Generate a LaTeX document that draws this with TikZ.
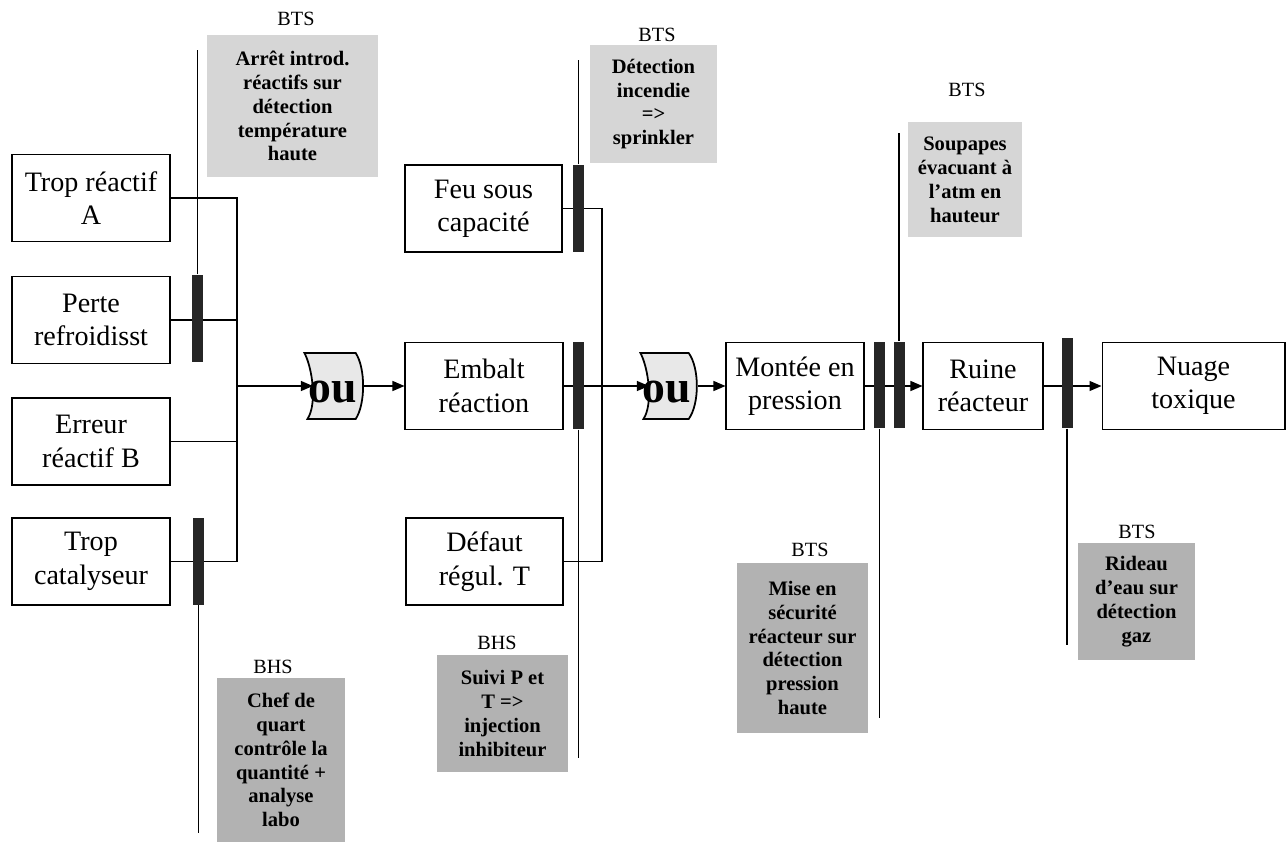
\documentclass[tikz,border=0pt]{standalone}
\usepackage{fontspec}
\setmainfont{Liberation Serif}
\usetikzlibrary{arrows.meta}
\definecolor{grisclair}{gray}{0.84}
\definecolor{grisfonce}{gray}{0.70}
\begin{document}
\begin{tikzpicture}[x=0.02cm,y=-0.02cm,line width=0.7pt,
  evt/.style={draw=black, line width=0.6pt, minimum height=1.74cm, inner sep=1pt, align=center, font=\fontsize{16}{19}\selectfont},
  barre/.style={fill=black!85, minimum width=0.22cm, minimum height=1.74cm, inner sep=0pt},
  ctrl/.style={align=center, inner sep=0pt, font=\fontsize{11.7}{13.6}\selectfont\bfseries},
  ctrlhaut/.style={ctrl, fill=grisclair},
  ctrlbas/.style={ctrl, fill=grisfonce},
  titre/.style={font=\fontsize{11.5}{13}\selectfont},
  porte/.style={fill=gray!18, draw=black, line width=1pt},
  ou/.style={font=\fontsize{26}{26}\selectfont\bfseries, inner sep=0pt},
  fleche/.style={-{Triangle[length=0.24cm,width=0.2cm]}}]
\useasboundingbox (0,0) rectangle (1288,842);
% evenements
\node[evt, minimum width=3.16cm](tropA) at (91,198) {Trop réactif\\A};
\node[evt, minimum width=3.16cm](perte) at (91,320) {Perte\\refroidisst};
\node[evt, minimum width=3.16cm](erreurB) at (91,441.5) {Erreur\\réactif B};
\node[evt, minimum width=3.16cm](tropcat) at (91,561.5) {Trop\\catalyseur};
\node[evt, minimum width=3.14cm](feu) at (483.5,208.5) {Feu sous\\capacité};
\node[evt, minimum width=3.16cm](embalt) at (484,386) {Embalt\\réaction};
\node[evt, minimum width=3.14cm](defaut) at (484.5,561.5) {Défaut\\régul. T};
\node[evt, minimum width=2.76cm](montee) at (795,386) {Montée en\\pression};
\node[evt, minimum width=2.40cm](ruine) at (983,386) {Ruine\\réacteur};
\node[evt, minimum width=3.66cm](nuage) at (1193.5,386) {Nuage\\toxique};
% portes ou
\node[minimum width=1cm, minimum height=1.3cm, inner sep=0pt](ou1) at (330,386) {};
\draw[porte] (ou1.north west) -- (ou1.north east) .. controls +(10,15) and +(10,-15) .. (ou1.south east)
  -- ([xshift=0.06cm]ou1.south west) .. controls +(10,-15) and +(8,15) .. (ou1.north west) -- cycle;
\node[ou](ou1txt) at (333,392) {ou};
\node[minimum width=0.94cm, minimum height=1.3cm, inner sep=0pt](ou2) at (664.5,386) {};
\draw[porte] (ou2.north west) -- (ou2.north east) .. controls +(11,15) and +(11,-15) .. (ou2.south east)
  -- ([xshift=0.06cm]ou2.south west) .. controls +(10,-15) and +(8,15) .. (ou2.north west) -- cycle;
\node[ou](ou2txt) at (667,392) {ou};
% liaisons
\coordinate (j1) at (237,386);
\draw (tropA.east) -| (j1);
\draw (perte.east) -| (j1);
\draw (erreurB.east) -| (j1);
\draw (tropcat.east) -| (j1);
\draw[fleche] (j1) -- ([xshift=0.17cm]ou1.west);
\draw[fleche] ([xshift=0.14cm]ou1.east) -- (embalt);
\coordinate (j2) at (602,386);
\draw (feu.east) -| (j2);
\draw (defaut.east) -| (j2);
\draw[fleche] (embalt) -- ([xshift=0.17cm]ou2.west);
\draw[fleche] ([xshift=0.18cm]ou2.east) -- (montee);
\draw[fleche] (montee) -- (ruine);
\draw[fleche] (ruine) -- (nuage);
% barrieres
\node[barre](bar1) at (197.5,318.5) {};
\node[barre](bar2) at (198.5,561) {};
\node[barre](bar3) at (578.5,208.5) {};
\node[barre](bar4) at (578.5,385.5) {};
\node[barre](bar5) at (879.5,385) {};
\node[barre](bar6) at (899,385) {};
\node[barre, minimum height=1.8cm](bar7) at (1067,383) {};
\coordinate (b1) at (197.5,50);
\coordinate (b2) at (198.5,833);
\coordinate (b3) at (578.5,60);
\coordinate (b4) at (578.5,758);
\coordinate (b5) at (879.5,718);
\coordinate (b6) at (899,133);
\coordinate (b7) at (1067,645);
\draw (bar1.north) -- (b1);
\draw (bar2.south) -- (b2);
\draw (bar3.north) -- (b3);
\draw (bar4.south) -- (b4);
\draw (bar5.south) -- (b5);
\draw (bar6.north) -- (b6);
\draw (bar7.south) -- (b7);
% mesures de maitrise
\node[titre](t1) at (296,19) {BTS};
\node[ctrlhaut, minimum width=3.42cm, minimum height=2.84cm](m1) at (292.5,106) {Arrêt introd.\\réactifs sur\\détection\\température\\haute};
\node[titre](t2) at (273,667) {BHS};
\node[ctrlbas, minimum width=2.56cm, minimum height=3.3cm](m2) at (281,760) {Chef de\\quart\\contrôle la\\quantité +\\analyse\\labo};
\node[titre](t3) at (657,35) {BTS};
\node[ctrlhaut, minimum width=2.54cm, minimum height=2.36cm](m3) at (653.5,104) {Détection\\incendie\\=>\\sprinkler};
\node[titre](t4) at (497,643) {BHS};
\node[ctrlbas, minimum width=2.62cm, minimum height=2.34cm](m4) at (502.5,713.5) {Suivi P et\\T =>\\injection\\inhibiteur};
\node[titre](t5) at (810,550) {BTS};
\node[ctrlbas, minimum width=2.62cm, minimum height=3.4cm](m5) at (802.5,648) {Mise en\\sécurité\\réacteur sur\\détection\\pression\\haute};
\node[titre](t6) at (967,90) {BTS};
\node[ctrlhaut, minimum width=2.28cm, minimum height=2.3cm](m6) at (965,179.5) {Soupapes\\évacuant à\\l’atm en\\hauteur};
\node[titre](t7) at (1137,532) {BTS};
\node[ctrlbas, minimum width=2.34cm, minimum height=2.34cm](m7) at (1136.5,601.5) {Rideau\\d’eau sur\\détection\\gaz};
\end{tikzpicture}
\end{document}
